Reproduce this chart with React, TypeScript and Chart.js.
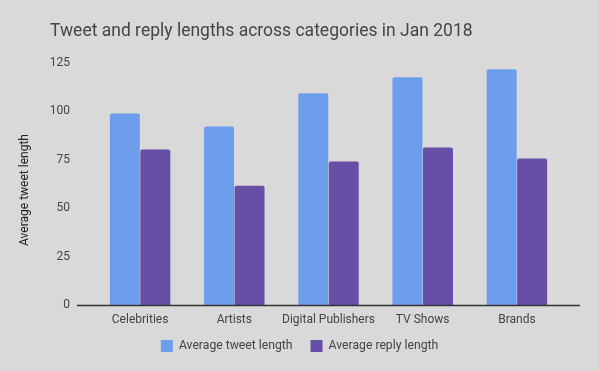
import React, { useEffect, useRef } from "react";
import { Chart, registerables } from "chart.js";

Chart.register(...registerables);

const chartTitle = "Tweet and reply lengths across categories in Jan 2018";
const yAxisTitle = "Average tweet length";
const categories = ["Celebrities", "Artists", "Digital Publishers", "TV Shows", "Brands"];
const tweetLength = [99.0, 92.3, 109.4, 117.6, 121.8];
const replyLength = [80.4, 61.7, 74.2, 81.4, 75.7];
const yTicks = [0, 25, 50, 75, 100, 125];

const X_SHRINK = 12;

const baselinePlugin = {
  id: "baseline",
  afterLayout(chart: any) {
    // let x tick labels overflow the shrunken axis box without being clipped
    chart.scales.x.bottom += X_SHRINK;
  },
  afterDatasetsDraw(chart: any) {
    const { ctx, chartArea, scales } = chart;
    const y = Math.round(scales.y.getPixelForValue(0)) + 0.5;
    ctx.save();
    ctx.strokeStyle = "#333333";
    ctx.lineWidth = 1.3;
    ctx.beginPath();
    ctx.moveTo(chartArea.left - 16, y);
    ctx.lineTo(chartArea.right + 16, y);
    ctx.stroke();
    ctx.restore();
  },
};

const textPlugin = {
  id: "titles",
  afterDraw(chart: any) {
    const { ctx } = chart;
    ctx.save();
    ctx.font = "17.5px Roboto";
    ctx.fillStyle = "#454545";
    ctx.textAlign = "left";
    ctx.textBaseline = "middle";
    ctx.fillText(chartTitle, 50, 32);
    ctx.restore();
    ctx.save();
    ctx.translate(25, 190);
    ctx.rotate(-Math.PI / 2);
    ctx.font = "12px Roboto";
    ctx.fillStyle = "#222222";
    ctx.textAlign = "center";
    ctx.textBaseline = "middle";
    ctx.fillText(yAxisTitle, 0, 0);
    ctx.restore();
  },
};

export default function App() {
  const ref = useRef<HTMLCanvasElement>(null);
  useEffect(() => {
    document.body.style.margin = "0";
    const chart = new Chart(ref.current!, {
      type: "bar",
      data: {
        labels: categories,
        datasets: [
          {
            label: "Average tweet length",
            data: tweetLength,
            backgroundColor: "#6d9eeb",
            borderRadius: 2,
            borderSkipped: "bottom",
            categoryPercentage: 0.647,
            barPercentage: 0.984,
          },
          {
            label: "Average reply length",
            data: replyLength,
            backgroundColor: "#674ea7",
            borderRadius: 2,
            borderSkipped: "bottom",
            categoryPercentage: 0.647,
            barPercentage: 0.984,
          },
        ],
      },
      options: {
        responsive: false,
        animation: false,
        layout: { padding: { left: 0, right: 0, top: 63, bottom: 9 } },
        font: { family: "Roboto" },
        plugins: {
          title: { display: false },
          legend: {
            position: "bottom",
            labels: {
              boxWidth: 12,
              boxHeight: 12,
              padding: 18,
              color: "#444444",
              font: { family: "Roboto", size: 12.2 },
            },
          },
          tooltip: { enabled: false },
        },
        scales: {
          x: {
            grid: { display: false, drawTicks: false },
            border: { display: false },
            afterFit(scale: any) {
              scale.height -= X_SHRINK;
            },
            ticks: {
              color: "#444444",
              font: { family: "Roboto", size: 12 },
              padding: 7,
              maxRotation: 0,
              minRotation: 0,
              autoSkip: false,
            },
          },
          y: {
            min: 0,
            max: 125,
            afterFit(scale: any) {
              scale.width = 93;
            },
            afterBuildTicks(scale: any) {
              scale.ticks = yTicks.map((v) => ({ value: v }));
            },
            grid: { display: false, drawTicks: false },
            border: { display: false },
            ticks: { color: "#444444", font: { family: "Roboto", size: 12 }, padding: 23 },
          },
          yRight: {
            position: "right",
            display: true,
            afterFit(scale: any) {
              scale.width = 35;
            },
            grid: { display: false, drawTicks: false },
            border: { display: false },
            ticks: { display: false },
          },
        },
      },
      plugins: [baselinePlugin, textPlugin],
    });
    return () => chart.destroy();
  }, []);
  return (
    <div style={{ position: "fixed", left: 0, top: 0, width: 599, height: 371, background: "#d9d9d9" }}>
      <canvas ref={ref} width={599} height={371} />
    </div>
  );
}
